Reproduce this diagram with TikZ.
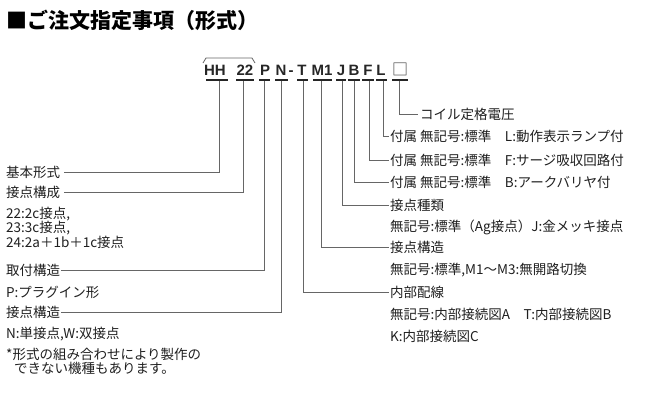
\documentclass[tikz,border=0pt]{standalone}
\usepackage{fontspec}
\setmainfont{Noto Sans CJK JP}
\newfontfamily\codefont{Liberation Sans}
\begin{document}
\begin{tikzpicture}[x=1pt,y=-1pt,
  lbl/.style={anchor=west,inner sep=0pt,font=\fontsize{13.5}{15}\selectfont,text=black!88},
  code/.style={inner sep=0pt,font=\codefont\bfseries\fontsize{15}{16}\selectfont,text=black!85},
  ln/.style={draw=black!60,line width=0.8pt},
  ul/.style={draw=black!85,line width=2pt}]
\useasboundingbox (0,0) rectangle (662,408);
\node[anchor=west,inner sep=0pt,font=\bfseries\fontsize{21}{24}\selectfont] (title) at (6,20) {■ご注文指定事項（形式）};
% code letters
\foreach \n/\x/\t in {hh/215/HH,tt/245/22,p/265/P,n/281/N,t/302/T,m/322/M1,j/341/J,b/354/B,f/368/F,l/381/L}
  \node[code] (\n) at (\x,70) {\t};
\node[code,anchor=base] (d) at (291,75) {-};
\node[inner sep=0pt,font=\fontsize{16}{17}\selectfont,text=black!80] (box) at (400,69) {□};
\draw[ln] (203,63) -- (206,58) -- (252,58) -- (255,63);
\foreach \a/\b in {206/228,236/254,259/270,275/288,297/308,313/332,336/346,348/360,362/374,376/387,392/408}
  \draw[ul] (\a,80) -- (\b,80);
% left labels
\node[lbl] (l1) at (6,172) {基本形式};
\node[lbl] (l2) at (6,192) {接点構成};
\node[lbl] (l3) at (6,214) {22:2c接点,};
\node[lbl] (l4) at (6,228) {23:3c接点,};
\node[lbl] (l5) at (6,242) {24:2a＋1b＋1c接点};
\node[lbl] (l6) at (6,270) {取付構造};
\node[lbl] (l7) at (6,292) {P:プラグイン形};
\node[lbl] (l8) at (6,312) {接点構造};
\node[lbl] (l9) at (6,334) {N:単接点,W:双接点};
\node[lbl] (l10) at (6,354) {*形式の組み合わせにより製作の};
\node[lbl] (l11) at (14,368) {できない機種もあります。};
% right labels
\node[lbl] (r0) at (420,114) {コイル定格電圧};
\node[lbl] (r1) at (390,136) {付属\ 無記号:標準\quad L:動作表示ランプ付};
\node[lbl] (r2) at (390,160) {付属\ 無記号:標準\quad F:サージ吸収回路付};
\node[lbl] (r3) at (390,182) {付属\ 無記号:標準\quad B:アークバリヤ付};
\node[lbl] (r4) at (390,205) {接点種類};
\node[lbl] (r5) at (390,227) {無記号:標準（Ag接点）J:金メッキ接点};
\node[lbl] (r6) at (390,247) {接点構造};
\node[lbl] (r7) at (390,270) {無記号:標準,M1〜M3:無開路切換};
\node[lbl] (r8) at (390,292) {内部配線};
\node[lbl] (r9) at (390,314) {無記号:内部接続図A\quad T:内部接続図B};
\node[lbl] (r10) at (390,336) {K:内部接続図C};
% connectors
\draw[ln] (219,81) |- ([xshift=4pt]l1.east);
\draw[ln] (243,81) |- ([xshift=4pt]l2.east);
\draw[ln] (264,81) |- ([xshift=1pt]l6.east);
\draw[ln] (281,81) |- ([xshift=1pt]l8.east);
\draw[ln] (399,81) |- ([xshift=-2pt]r0.west);
\draw[ln] (383,81) |- ([xshift=-1pt]r1.west);
\draw[ln] (369,81) |- ([xshift=-1pt]r2.west);
\draw[ln] (354,81) |- ([xshift=-1pt]r3.west);
\draw[ln] (342,81) |- ([xshift=-1pt]r4.west);
\draw[ln] (321,81) |- ([xshift=-1pt]r6.west);
\draw[ln] (303,81) |- ([xshift=-1pt]r8.west);
\end{tikzpicture}
\end{document}
